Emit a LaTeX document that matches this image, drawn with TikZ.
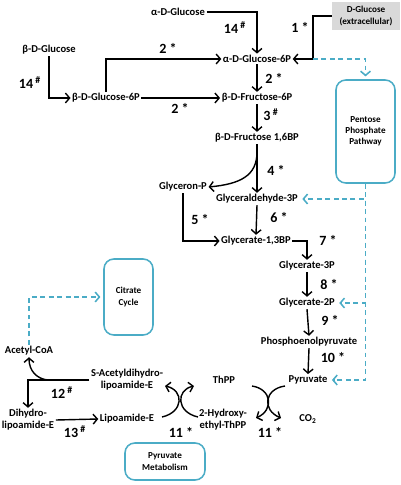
\documentclass[tikz,border=0pt]{standalone}
\usepackage{fontspec}
\setmainfont{Carlito}
\usetikzlibrary{arrows.meta}
\definecolor{pathblue}{RGB}{75,172,198}
\definecolor{boxgray}{RGB}{217,217,217}

\begin{document}
\begin{tikzpicture}[x=0.025cm, y=-0.025cm,
    met/.style={font=\fontsize{7.5}{8.5}\selectfont\bfseries, inner sep=1pt, align=center},
    enz/.style={font=\fontsize{10}{11}\selectfont\bfseries, inner sep=0pt},
    rxn/.style={line width=1pt, -{Straight Barb[length=3pt, width=7pt]}},
    link/.style={pathblue, line width=1.1pt, dash pattern=on 3.5pt off 2.5pt, shorten >=2pt, -{Straight Barb[length=3pt, width=7pt]}},
    pathway/.style={draw=pathblue, line width=1.1pt, rounded corners=7pt, align=center, font=\fontsize{6.5}{8}\selectfont\bfseries}
]
    \useasboundingbox (0,0) rectangle (400,485);

    \node[met] (aglc) at (178,12) {α-D-Glucose};
    \node[met, fill=boxgray, minimum width=1.7cm, minimum height=0.7cm, font=\fontsize{6.5}{8}\selectfont\bfseries] (dglc) at (366,16) {D-Glucose\\(extracellular)};
    \node[met] (aglc6p) at (257,59) {α-D-Glucose-6P};
    \node[met] (bglc) at (49,50) {β-D-Glucose};
    \node[met] (bglc6p) at (106,98) {β-D-Glucose-6P};
    \node[met] (bfru6p) at (257,98) {β-D-Fructose-6P};
    \node[met] (bfru16) at (257,138) {β-D-Fructose 1,6BP};
    \node[met] (glyp) at (183,187) {Glyceron-P};
    \node[met] (gap) at (257,199) {Glyceraldehyde-3P};
    \node[met] (bpg) at (256,241) {Glycerate-1,3BP};
    \node[met] (g3p) at (307,266) {Glycerate-3P};
    \node[met] (g2p) at (307,303) {Glycerate-2P};
    \node[met] (pep) at (309,342) {Phosphoenolpyruvate};
    \node[met] (pyr) at (308,380) {Pyruvate};
    \node[met] (thpp) at (224,380) {ThPP};
    \node[met] (hethpp) at (223,420) {2-Hydroxy-\\ethyl-ThPP};
    \node[met] (co2) at (308,419) {CO\textsubscript{2}};
    \node[met] (sacl) at (127,380) {S-Acetyldihydro-\\lipoamide-E};
    \node[met] (lip) at (127,419) {Lipoamide-E};
    \node[met] (accoa) at (29,351) {Acetyl-CoA};
    \node[met] (dhl) at (28,420) {Dihydro-\\lipoamide-E};

    \node[pathway, minimum width=1.475cm, minimum height=2.575cm] (ppp) at (365.5,131.5) {Pentose\\Phosphate\\Pathway};
    \node[pathway, minimum width=1.225cm, minimum height=1.9cm] (tca) at (128.5,297) {Citrate\\Cycle};
    \node[pathway, minimum width=2cm, minimum height=0.925cm] (pym) at (165,461.5) {Pyruvate\\Metabolism};

    \coordinate (c1) at (313,16);
    \coordinate (c2) at (313,59);
    \coordinate (c3) at (257,152);
    \coordinate (c12) at (48,380);

    \draw[rxn] (aglc.east) -| (aglc6p.north);
    \draw[rxn] (dglc.west) -- (c1) |- (aglc6p.east);
    \draw[link] (c2) -| (ppp.north);
    \draw[rxn] (bglc.south) |- (bglc6p.west);
    \draw[rxn] (bglc6p.north) |- (aglc6p.west);
    \draw[rxn] (bglc6p.east) -- (bfru6p.west);
    \draw[rxn] (aglc6p.south) -- (bfru6p.north);
    \draw[rxn] (bfru6p.south) -- (bfru16.north);
    \draw[rxn] (bfru16.south) -- (gap.north);
    \draw[rxn] (c3) .. controls (257,176) and (240,184) .. (glyp.east);
    \draw[rxn] (gap.south) -- (bpg.north);
    \draw[rxn] (glyp.south) |- (bpg.west);
    \draw[rxn] (bpg.east) -| (g3p.north);
    \draw[rxn] (g3p.south) -- (g2p.north);
    \draw[rxn] (g2p.south) -- (pep.north);
    \draw[rxn] (pep.south) -- (pyr.north);

    \draw[link] (ppp.south) |- (gap.east);
    \draw[link] (ppp.south) |- (g2p.east);
    \draw[link] (ppp.south) |- (pyr.east);

    \coordinate (xr1) at (252,386);
    \coordinate (xr2) at (285,386);
    \coordinate (xr3) at (256,418);
    \coordinate (xr4) at (281,418);
    \draw[rxn] (xr1) .. controls (272,389) and (274,410) .. (xr3);
    \draw[rxn] (xr2) .. controls (264,389) and (262,410) .. (xr4);

    \coordinate (xl1) at (162,417);
    \coordinate (xl2) at (198,417);
    \coordinate (xl3) at (165,386);
    \coordinate (xl4) at (194,386);
    \draw[rxn] (xl1) .. controls (184,412) and (184,390) .. (xl3);
    \draw[rxn] (xl2) .. controls (176,412) and (176,390) .. (xl4);

    \draw[rxn] (sacl.west) -| (dhl.north);
    \draw[rxn] (c12) .. controls (37,379) and (29,371) .. (accoa.south);
    \draw[rxn] (dhl.east) -- (lip.west);
    \draw[link] (accoa.north) |- (tca.west);

    \node[enz] at (235,28) {14\,\textsuperscript{\#}};
    \node[enz] at (300,27) {1 *};
    \node[enz] at (30,83) {14\,\textsuperscript{\#}};
    \node[enz] at (168,48) {2 *};
    \node[enz] at (180,108) {2 *};
    \node[enz] at (274,78) {2 *};
    \node[enz] at (271,115) {3\,\textsuperscript{\#}};
    \node[enz] at (276,170) {4 *};
    \node[enz] at (200,220) {5 *};
    \node[enz] at (279,218) {6 *};
    \node[enz] at (328,240) {7 *};
    \node[enz] at (329,285) {8 *};
    \node[enz] at (330,320) {9 *};
    \node[enz] at (333,358) {10 *};
    \node[enz] at (270,432) {11 *};
    \node[enz] at (181,432) {11 *};
    \node[enz] at (62,393) {12\,\textsuperscript{\#}};
    \node[enz] at (75,432) {13\,\textsuperscript{\#}};
\end{tikzpicture}
\end{document}
